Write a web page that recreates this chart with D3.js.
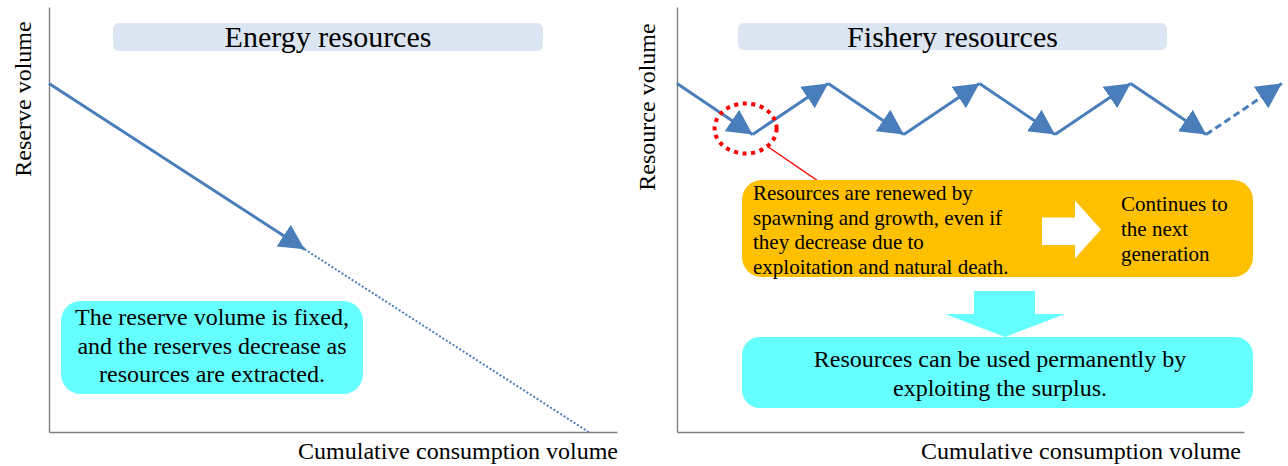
<!DOCTYPE html>
<html>
<head>
<meta charset="utf-8">
<script src="https://cdn.jsdelivr.net/npm/d3@7"></script>
<style>
  body { margin: 0; background: #fff; }
  svg text { font-family: "Liberation Serif", "Times New Roman", serif; fill: #000; }
</style>
</head>
<body>
<div id="chart"></div>
<script>
// energy resources: cumulative consumption vs reserve volume
const energyConsumption = [0, 4.5, 9.5]
const energyReserve = [82, 43, 0]

// fishery resources: zigzag of stock through generations
const fisheryConsumption = [0, 1, 2, 3, 4, 5, 6, 7, 8]
const fisheryStock = [82, 70, 82, 70, 82, 70, 82, 70, 82]

const titles = ["Energy resources", "Fishery resources"]
const yLabels = ["Reserve volume", "Resource volume"]
const xLabel = "Cumulative consumption volume"
const energyNote = ["The reserve volume is fixed,", "and the reserves decrease as", "resources are extracted."]
const renewNote = ["Resources are renewed by", "spawning and growth, even if", "they decrease due to", "exploitation and natural death."]
const nextNote = ["Continues to", "the next", "generation"]
const surplusNote = ["Resources can be used permanently by", "exploiting the surplus."]

const blue = "#4a7ebb"

const svg = d3.select("#chart")
    .append("svg")
    .attr("width", 1288)
    .attr("height", 466)

svg.append("defs").append("marker")
    .attr("id", "tri")
    .attr("markerUnits", "userSpaceOnUse")
    .attr("viewBox", "0 0 25 26")
    .attr("markerWidth", 25)
    .attr("markerHeight", 26)
    .attr("refX", 25)
    .attr("refY", 13)
    .attr("orient", "auto")
    .append("path")
    .attr("d", "M0,0 L25,13 L0,26 Z")
    .attr("fill", blue)

const yScale = d3.scaleLinear().domain([0, 100]).range([432, 7])
const xLeft = d3.scaleLinear().domain([0, 10]).range([49, 617])
const xRight = d3.scaleLinear().domain([0, 7.5]).range([677, 1244])

function drawAxes(x) {
    const xAxis = d3.axisBottom(x).ticks(0).tickSizeOuter(0)
    const yAxis = d3.axisLeft(yScale).ticks(0).tickSizeOuter(0)
    svg.append("g").attr("transform", "translate(0,432)").call(xAxis)
    svg.append("g").attr("transform", "translate(" + x.range()[0] + ",0)").call(yAxis)
}
drawAxes(xLeft)
drawAxes(xRight)
svg.selectAll(".domain").attr("stroke", "#808080").attr("stroke-width", 1.4)

// title boxes
const titleBoxes = [{x: 113, w: 430, h: 28}, {x: 738, w: 429, h: 27}]
titleBoxes.forEach((b, i) => {
    svg.append("rect")
        .attr("x", b.x).attr("y", 23).attr("width", b.w).attr("height", b.h)
        .attr("rx", 6).attr("fill", "#dce6f2")
    svg.append("text")
        .attr("x", b.x + b.w / 2).attr("y", 47)
        .attr("text-anchor", "middle")
        .attr("font-size", 30)
        .text(titles[i])
})

// axis labels
const yLabelPos = [{x: 31, y: 99}, {x: 655, y: 107}]
yLabelPos.forEach((p, i) => {
    svg.append("text")
        .attr("transform", "translate(" + p.x + "," + p.y + ") rotate(-90)")
        .attr("text-anchor", "middle")
        .attr("font-size", 24)
        .text(yLabels[i])
})
;[618, 1241].forEach(x => {
    svg.append("text")
        .attr("x", x).attr("y", 459)
        .attr("text-anchor", "end")
        .attr("font-size", 24)
        .text(xLabel)
})

// energy line: solid to the arrow, then dotted
const energy = energyConsumption.map((c, i) => ({c: c, v: energyReserve[i]}))
svg.append("line")
    .attr("x1", xLeft(energy[0].c)).attr("y1", yScale(energy[0].v))
    .attr("x2", xLeft(energy[1].c)).attr("y2", yScale(energy[1].v))
    .attr("stroke", blue).attr("stroke-width", 3)
    .attr("marker-end", "url(#tri)")
svg.append("line")
    .attr("x1", xLeft(energy[1].c)).attr("y1", yScale(energy[1].v))
    .attr("x2", xLeft(energy[2].c)).attr("y2", yScale(energy[2].v))
    .attr("stroke", blue).attr("stroke-width", 2)
    .attr("stroke-dasharray", "2,2")

// fishery zigzag, each segment with an arrowhead, last one dashed
const fishery = fisheryConsumption.map((c, i) => ({c: c, v: fisheryStock[i]}))
const segs = d3.pairs(fishery)
svg.selectAll(".seg")
    .data(segs)
    .enter()
    .append("line")
    .attr("class", "seg")
    .attr("x1", d => xRight(d[0].c)).attr("y1", d => yScale(d[0].v))
    .attr("x2", d => xRight(d[1].c)).attr("y2", d => yScale(d[1].v))
    .attr("stroke", blue).attr("stroke-width", 3)
    .attr("stroke-dasharray", (d, i) => i === segs.length - 1 ? "7,4" : null)
    .attr("marker-end", "url(#tri)")

// cyan note on the energy side
svg.append("rect")
    .attr("x", 61).attr("y", 301).attr("width", 302).attr("height", 93)
    .attr("rx", 20).attr("fill", "#66ffff")
energyNote.forEach((t, i) => {
    svg.append("text")
        .attr("x", 212).attr("y", 325 + i * 28.5)
        .attr("text-anchor", "middle")
        .attr("font-size", 24)
        .text(t)
})

// red dotted circle around the first trough
const trough = {x: xRight(fishery[1].c), y: yScale(fishery[1].v)}
svg.append("ellipse")
    .attr("cx", trough.x - 7).attr("cy", trough.y - 6)
    .attr("rx", 31).attr("ry", 25)
    .attr("fill", "none").attr("stroke", "#ff0000")
    .attr("stroke-width", 4).attr("stroke-dasharray", "4,4.6")
svg.append("line")
    .attr("x1", trough.x + 15).attr("y1", trough.y + 12)
    .attr("x2", 818).attr("y2", 181)
    .attr("stroke", "#ff0000").attr("stroke-width", 1.5)

// orange note
svg.append("rect")
    .attr("x", 742).attr("y", 180).attr("width", 511).attr("height", 97)
    .attr("rx", 20).attr("fill", "#ffc000")
renewNote.forEach((t, i) => {
    svg.append("text")
        .attr("x", 753).attr("y", 200 + i * 24.5)
        .attr("font-size", 21)
        .text(t)
})
nextNote.forEach((t, i) => {
    svg.append("text")
        .attr("x", 1121).attr("y", 211 + i * 25)
        .attr("font-size", 21)
        .text(t)
})
svg.append("path")
    .attr("d", "M1042,217.5 L1075,217.5 L1075,200.5 L1101,229.5 L1075,258.5 L1075,245 L1042,245 Z")
    .attr("fill", "#ffffff")

// down arrow and surplus note
svg.append("path")
    .attr("d", "M974,291 L1035,291 L1035,314 L1065,314 L1005,337 L945,314 L974,314 Z")
    .attr("fill", "#66ffff")
svg.append("rect")
    .attr("x", 742).attr("y", 337).attr("width", 511).attr("height", 71)
    .attr("rx", 18).attr("fill", "#66ffff")
surplusNote.forEach((t, i) => {
    svg.append("text")
        .attr("x", 1000).attr("y", 367 + i * 29)
        .attr("text-anchor", "middle")
        .attr("font-size", 24)
        .text(t)
})
</script>
</body>
</html>
